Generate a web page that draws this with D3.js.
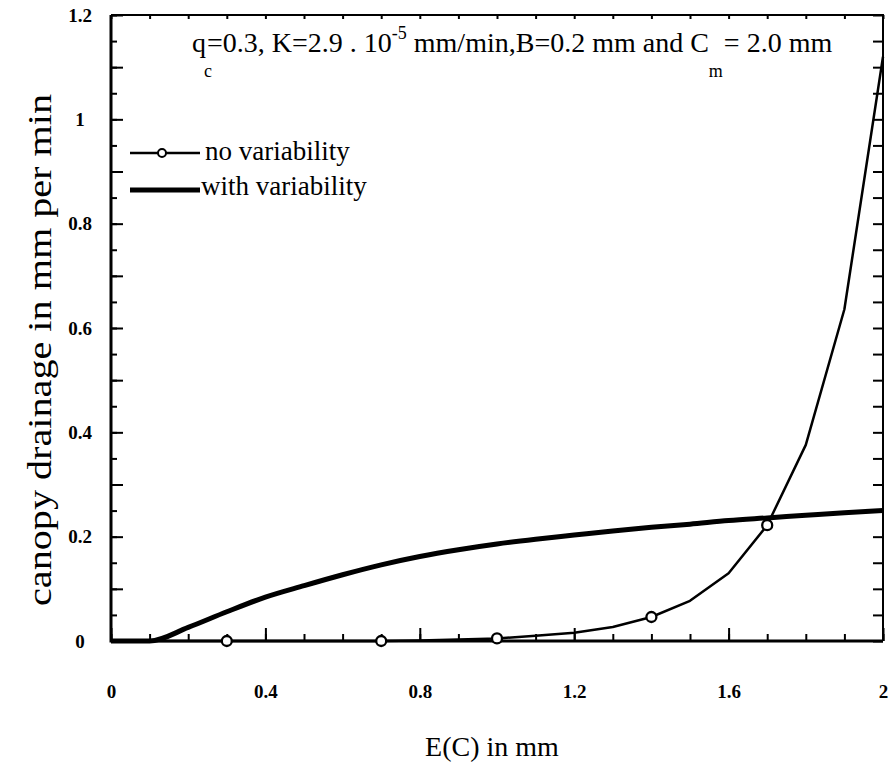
<!DOCTYPE html>
<html>
<head>
<meta charset="utf-8">
<script src="https://cdn.jsdelivr.net/npm/d3@7"></script>
<style>
  body { margin: 0; background: #fff; }
</style>
</head>
<body>
<div id="chart"></div>
<script>
// E(C) in mm, one point every 0.1
const ecValues = [0, 0.1, 0.2, 0.3, 0.4, 0.5, 0.6, 0.7, 0.8, 0.9, 1.0,
                  1.1, 1.2, 1.3, 1.4, 1.5, 1.6, 1.7, 1.8, 1.9, 2.0];
// canopy drainage, no variability (thin line)
const noVariability = [0, 0, 0, 0, 0, 0, 0, 0, 0.001, 0.003, 0.005,
                       0.01, 0.016, 0.027, 0.046, 0.077, 0.13, 0.222, 0.376, 0.636, 1.12];
// canopy drainage, with variability (thick line)
const withVariability = [0, 0, 0.026, 0.056, 0.084, 0.106, 0.127, 0.146, 0.162, 0.175, 0.186,
                         0.195, 0.203, 0.211, 0.218, 0.224, 0.231, 0.236, 0.241, 0.246, 0.25];
// where the circles sit on the thin line
const markerAt = [0.3, 0.7, 1.0, 1.4, 1.7];

const xTicks = [0, 0.4, 0.8, 1.2, 1.6, 2];
const xTickLabels = ["0", "0.4", "0.8", "1.2", "1.6", "2"];
const yTicks = [0, 0.2, 0.4, 0.6, 0.8, 1, 1.2];
const yTickLabels = ["0", "0.2", "0.4", "0.6", "0.8", "1", "1.2"];

const serif = "'Liberation Serif', Tinos, 'Times New Roman', Times, 'DejaVu Serif', serif";
const width = 892, height = 768;
const plotLeft = 111, plotRight = 883, plotTop = 15, plotBottom = 641;

const svg = d3.select("#chart")
    .append("svg")
    .attr("width", width)
    .attr("height", height)
    .style("font-family", serif);

const x = d3.scaleLinear().domain([0, 2]).range([plotLeft, plotRight]);
const y = d3.scaleLinear().domain([0, 1.2]).range([plotBottom, plotTop]);

const noVarData = ecValues.map((e, i) => ({ e: e, v: noVariability[i] }));
const withVarData = ecValues.map((e, i) => ({ e: e, v: withVariability[i] }));

// ticks, all pointing inward
const minorX = d3.range(0, 2.001, 0.1).map(d => +d.toFixed(1));
const minorY = d3.range(0, 1.2001, 0.05).map(d => +d.toFixed(2));
const majorY = d3.range(0, 1.2001, 0.1).map(d => +d.toFixed(1));

function tickStyle(g) {
    g.attr("font-family", null).style("font-family", serif);
    g.select(".domain").remove();
    g.selectAll("line").attr("stroke", "#000").attr("stroke-width", 2);
}

svg.append("g")
    .attr("transform", `translate(0,${plotBottom})`)
    .call(d3.axisBottom(x).tickValues(minorX).tickSize(-7).tickFormat(""))
    .call(tickStyle);

svg.append("g")
    .attr("transform", `translate(0,${plotBottom})`)
    .call(d3.axisBottom(x).tickValues(xTicks).tickSize(-13).tickPadding(44)
        .tickFormat((d, i) => xTickLabels[i]))
    .call(tickStyle)
    .selectAll("text")
    .style("font-size", "19px")
    .style("font-weight", "bold");

svg.append("g")
    .attr("transform", `translate(0,${plotTop})`)
    .call(d3.axisTop(x).tickValues(minorX).tickSize(-4).tickFormat(""))
    .call(tickStyle);

svg.append("g")
    .attr("transform", `translate(${plotLeft},0)`)
    .call(d3.axisLeft(y).tickValues(minorY).tickSize(-6).tickFormat(""))
    .call(tickStyle);

svg.append("g")
    .attr("transform", `translate(${plotLeft},0)`)
    .call(d3.axisLeft(y).tickValues(majorY).tickSize(-12).tickFormat(""))
    .call(tickStyle);

svg.append("g")
    .attr("transform", `translate(${plotLeft},0)`)
    .call(d3.axisLeft(y).tickValues(yTicks).tickSize(0)
        .tickFormat((d, i) => yTickLabels[i]))
    .call(tickStyle)
    .selectAll("text")
    .attr("x", -31)
    .attr("text-anchor", "middle")
    .style("font-size", "19px")
    .style("font-weight", "bold");

svg.append("g")
    .attr("transform", `translate(${plotRight},0)`)
    .call(d3.axisRight(y).tickValues(minorY).tickSize(-10).tickFormat(""))
    .call(tickStyle);

// frame
svg.append("path")
    .attr("d", `M${plotLeft},${plotTop}H${plotRight}V${plotBottom}`)
    .attr("fill", "none").attr("stroke", "#000").attr("stroke-width", 2);
svg.append("path")
    .attr("d", `M${plotLeft},${plotTop}V${plotBottom}H${plotRight}`)
    .attr("fill", "none").attr("stroke", "#000").attr("stroke-width", 3);

// curves
svg.append("path")
    .datum(withVarData)
    .attr("fill", "none")
    .attr("stroke", "#000")
    .attr("stroke-width", 5)
    .attr("stroke-linejoin", "round")
    .attr("d", d3.line().x(d => x(d.e)).y(d => y(d.v)).curve(d3.curveMonotoneX));

svg.append("path")
    .datum(noVarData)
    .attr("fill", "none")
    .attr("stroke", "#000")
    .attr("stroke-width", 2.5)
    .attr("stroke-linejoin", "round")
    .attr("d", d3.line().x(d => x(d.e)).y(d => y(d.v)));

svg.selectAll(".marker")
    .data(noVarData.filter(d => markerAt.includes(d.e)))
    .join("circle")
    .attr("class", "marker")
    .attr("cx", d => x(d.e))
    .attr("cy", d => y(d.v))
    .attr("r", 5)
    .attr("fill", "#fff")
    .attr("stroke", "#000")
    .attr("stroke-width", 2.3);

// legend
const legend = svg.append("g");
legend.append("line")
    .attr("x1", 130).attr("x2", 200).attr("y1", 153).attr("y2", 153)
    .attr("stroke", "#000").attr("stroke-width", 2.5);
legend.append("circle")
    .attr("cx", 162).attr("cy", 153).attr("r", 4)
    .attr("fill", "#fff").attr("stroke", "#000").attr("stroke-width", 2);
legend.append("text")
    .attr("x", 205).attr("y", 160)
    .style("font-size", "27px")
    .text("no variability");
legend.append("line")
    .attr("x1", 130).attr("x2", 200).attr("y1", 190).attr("y2", 190)
    .attr("stroke", "#000").attr("stroke-width", 5);
legend.append("text")
    .attr("x", 201).attr("y", 195)
    .style("font-size", "27px")
    .text("with variability");

// title with sub/superscripts
const title = svg.append("text")
    .attr("x", 192).attr("y", 52)
    .style("font-size", "28px");
title.append("tspan").text("q");
title.append("tspan").attr("dy", 25).attr("dx", -2).style("font-size", "18px").text("c");
title.append("tspan").attr("dy", -25).attr("dx", -5).text("=0.3, K=2.9 . 10");
title.append("tspan").attr("dy", -13).style("font-size", "18px").text("-5");
title.append("tspan").attr("dy", 13).text(" mm/min,B=0.2 mm and C");
title.append("tspan").attr("dy", 25).style("font-size", "18px").text("m");
title.append("tspan").attr("dy", -25).attr("dx", -6).text(" = 2.0 mm");

// axis titles
svg.append("text")
    .attr("x", 492).attr("y", 756)
    .attr("text-anchor", "middle")
    .style("font-size", "28px")
    .text("E(C) in mm");

svg.append("text")
    .attr("transform", "translate(51,350) rotate(-90)")
    .attr("text-anchor", "middle")
    .attr("textLength", 512)
    .attr("lengthAdjust", "spacingAndGlyphs")
    .style("font-size", "34px")
    .text("canopy drainage in mm per min");
</script>
</body>
</html>
